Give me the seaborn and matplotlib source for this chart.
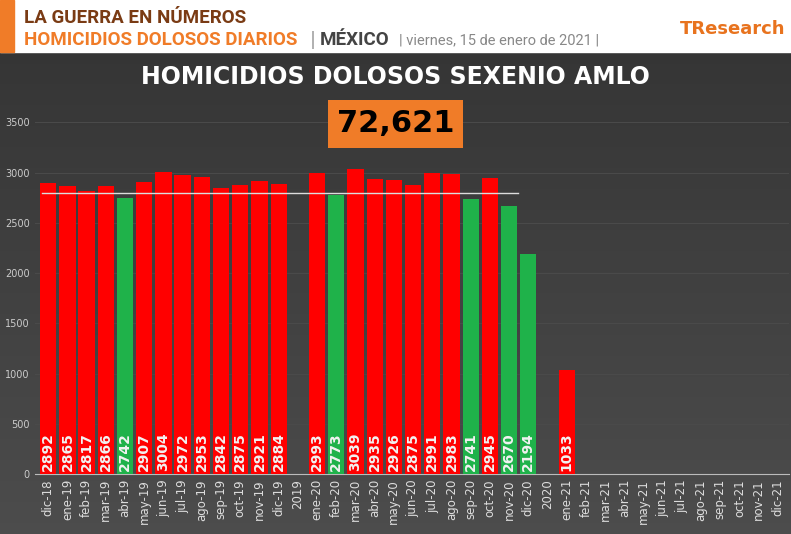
import numpy as np
import pandas as pd
import matplotlib
matplotlib.use('Agg')
import matplotlib.pyplot as plt
import seaborn as sns

months = ['dic-18', 'ene-19', 'feb-19', 'mar-19', 'abr-19', 'may-19', 'jun-19', 'jul-19', 'ago-19',
          'sep-19', 'oct-19', 'nov-19', 'dic-19', '2019',
          'ene-20', 'feb-20', 'mar-20', 'abr-20', 'may-20', 'jun-20', 'jul-20', 'ago-20', 'sep-20',
          'oct-20', 'nov-20', 'dic-20', '2020',
          'ene-21', 'feb-21', 'mar-21', 'abr-21', 'may-21', 'jun-21', 'jul-21', 'ago-21', 'sep-21',
          'oct-21', 'nov-21', 'dic-21']
values = [2892, 2865, 2817, 2866, 2742, 2907, 3004, 2972, 2953, 2842, 2875, 2921, 2884, 0,
          2993, 2773, 3039, 2935, 2926, 2875, 2991, 2983, 2741, 2945, 2670, 2194, 0,
          1033, 0, 0, 0, 0, 0, 0, 0, 0, 0, 0, 0]
green_months = ['abr-19', 'feb-20', 'sep-20', 'nov-20', 'dic-20']
avg_line = 2800
total = '72,621'

df = pd.DataFrame({'mes': months, 'homicidios': values})
df['tipo'] = np.where(df['mes'].isin(green_months), 'baja', 'alta')

fig = plt.figure(figsize=(7.91, 5.34), dpi=100)
fig.patch.set_facecolor('#3a3a3a')

# fondo con degradado
bg = fig.add_axes([0, 0, 1, 1], zorder=-5)
grad = np.linspace(0.20, 0.30, 256).reshape(-1, 1)
bg.imshow(np.dstack([grad, grad, grad]), aspect='auto', extent=[0, 1, 0, 1])
bg.axis('off')

# cabecera
fig.patches.append(plt.Rectangle((0, 0.902), 1, 0.098, transform=fig.transFigure, color='white', zorder=1))
fig.patches.append(plt.Rectangle((0, 0.902), 0.018, 0.098, transform=fig.transFigure, color='#f07c28', zorder=2))
fig.text(0.03, 0.966, 'LA GUERRA EN NÚMEROS', color='#7a3b14', fontsize=13.5, fontweight='bold',
         family='Roboto', va='center')
fig.text(0.03, 0.925, 'HOMICIDIOS DOLOSOS DIARIOS', color='#f07c28', fontsize=13.5, fontweight='bold',
         family='Roboto', va='center')
fig.text(0.392, 0.925, '|', color='#999999', fontsize=13, va='center')
fig.text(0.404, 0.925, 'MÉXICO', color='#444444', fontsize=13.5, fontweight='bold',
         family='Roboto', va='center')
fig.text(0.505, 0.925, '| viernes, 15 de enero de 2021 |', color='#888888', fontsize=10.5,
         family='Roboto', va='center')
fig.text(0.86, 0.945, 'TResearch', color='#e8731e', fontsize=13, fontweight='bold', va='center')

fig.text(0.5, 0.855, 'HOMICIDIOS DOLOSOS SEXENIO AMLO', color='white', fontsize=17, fontweight='bold',
         ha='center', va='center')
fig.text(0.5, 0.768, total, color='black', fontsize=22, fontweight='bold', ha='center', va='center',
         bbox=dict(boxstyle='square,pad=0.3', fc='#f07c28', ec='none'), zorder=5)

ax = fig.add_axes([0.044, 0.112, 0.954, 0.659])
ax.set_facecolor('none')
sns.barplot(data=df, x='mes', y='homicidios', hue='tipo', palette={'alta': '#ff0000', 'baja': '#1fb24a'},
            dodge=False, legend=False, width=0.85, saturation=1, ax=ax, zorder=3)
ax.set_ylim(0, 3500)
ax.set_yticks(range(0, 3501, 500))
ax.grid(axis='y', color='#4a4a4a', lw=0.8, zorder=0)
ax.axhline(avg_line, color='#dddddd', lw=1, xmin=0.01, xmax=0.64, zorder=4)
for i, v in enumerate(values):
    if v > 0:
        ax.text(i, 30, str(v), rotation=90, ha='center', va='bottom', color='#f2f2f2',
                fontsize=10, fontweight='bold', zorder=5)
ax.tick_params(axis='x', rotation=90, colors='#dddddd', labelsize=8.5, length=0)
ax.tick_params(axis='y', colors='#cccccc', labelsize=7, length=0)
ax.set_xlabel('')
ax.set_ylabel('')
for s in ['top', 'right', 'left']:
    ax.spines[s].set_visible(False)
ax.spines['bottom'].set_color('#bbbbbb')
ax.set_xlim(-0.7, len(months) - 0.4)

fig.savefig('out.png', dpi=100)
